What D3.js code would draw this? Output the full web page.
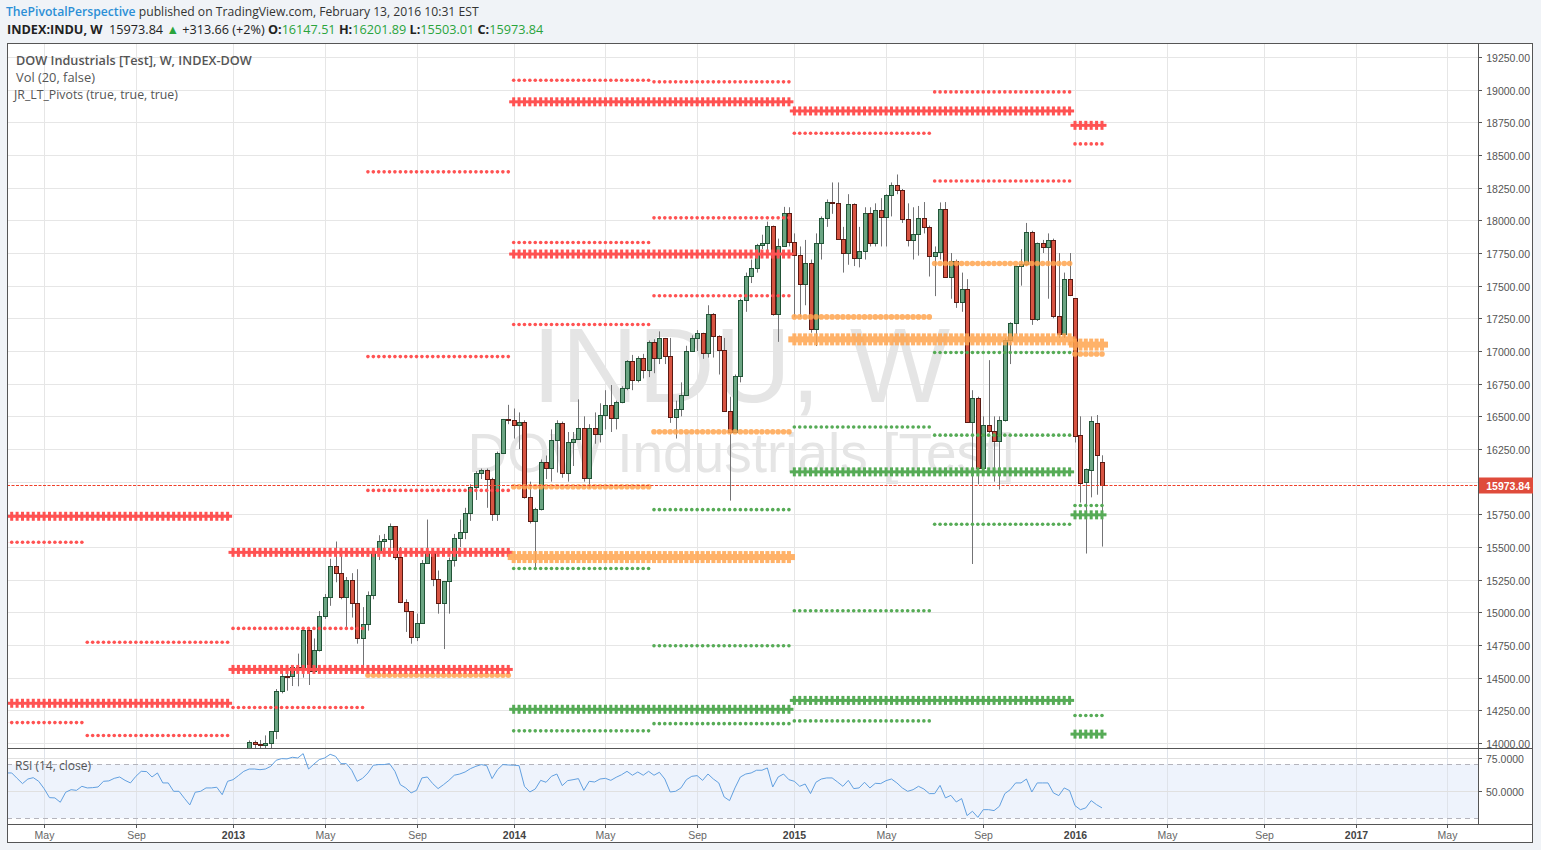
<!DOCTYPE html>
<html><head><meta charset="utf-8">
<script src="https://cdn.jsdelivr.net/npm/d3@7"></script>
<style>
html,body{margin:0;padding:0;background:#f0f3f7;}
svg{display:block;}
</style></head><body>
<svg id="c" width="1541" height="850"></svg>
<script>
// ---------------- DATA ----------------
const firstBar = "2013-01-28"; // weekly bars (Mondays)
const opens = [13896,14009,13993,13982,14001,14090,14397,14514,14512,14579,14565,14865,14548,14712,14974,15118,15354,15303,15116,15248,15070,14800,
14910,15136,15464,15544,15559,15659,15425,15081,15010,14810,14922,15376,15451,15258,15072,15237,15399,15570,15615,15761,15962,16064,16086,16020,15755,16221,16479,
16470,16437,16458,15879,15699,15794,16154,16103,16321,16452,16065,16302,16323,16412,16027,16409,16361,16512,16583,16491,16606,16717,16924,16776,16947,
16851,17068,16944,17100,16961,16493,16554,16663,17001,17098,17138,16988,17280,17113,17009,16544,16380,16805,17391,17573,17634,17810,17828,17958,17280,17804,18053,
17833,17737,17512,17673,17165,17825,18019,18141,18133,17856,17749,18128,17713,17763,18058,17827,18080,18025,18191,18272,18232,18011,17849,17899,18016,
17947,17730,17760,18086,17568,17690,17373,17477,16460,16643,16102,16433,16385,16315,16472,17084,17216,17647,17664,17910,17245,17824,17798,17848,17265,17128,17553,
17405,16354,16000,16090,16450,16147.51];
const highs = [14020,14019,14023,14058,14090,14413,14540,14563,14585,14684,14888,14875,14800,15010,15140,15410,15542,15450,15270,15300,15330,15040,
15160,15490,15590,15600,15680,15660,15500,15100,15010,14990,15400,15710,15460,15320,15240,15420,15600,15710,15800,15980,16080,16100,16100,16030,16230,16480,16588,
16560,16530,16470,16000,15800,16170,16200,16400,16470,16460,16380,16380,16630,16500,16440,16530,16600,16700,16740,16620,16730,16930,16970,16960,16978,
17080,17090,17150,17100,17100,16620,16760,17040,17120,17160,17140,17350,17290,17120,17100,16650,16820,17400,17600,17700,17820,17890,17990,17960,17860,18103,18100,
17900,17800,17850,17700,17900,18030,18160,18290,18290,17950,18200,18130,17950,18100,18100,18130,18170,18200,18290,18351,18240,18130,18100,18110,18140,
17960,17800,18137,18140,17750,17700,17600,17550,16700,16650,16500,16930,16500,16500,17100,17220,17650,17780,17980,17920,17830,17850,17900,17860,17750,17600,17750,
17405,16500,16100,16500,16510,16201.89];
const lows = [13860,13880,13910,13880,13784,14030,14380,14400,14436,14434,14500,14444,14540,14700,14950,15050,15230,15100,14880,14960,14760,14551,
14860,15100,15400,15440,15440,15400,15070,14850,14760,14780,14920,15370,15200,14990,14719,14990,15350,15500,15560,15700,15860,16020,15800,15700,15700,16220,16440,
16330,16250,15870,15680,15341,15780,16020,16000,16070,16030,16000,16120,16320,16000,15950,16290,16300,16400,16380,16400,16600,16700,16700,16760,16790,
16800,16830,16900,16900,16450,16330,16500,16660,17000,17000,16940,16950,16950,16820,16540,15855,16380,16760,17300,17520,17600,17780,17750,17270,17070,17800,17800,
17262,17260,17350,17140,17038,17700,17950,18050,17850,17600,17660,17650,17640,17700,17800,17800,17800,17800,18030,18200,17980,17800,17700,17730,17900,
17570,17420,17700,17560,17400,17330,17300,16450,15370,15980,16100,16370,16000,15940,16460,16900,17130,17500,17650,17200,17230,17750,17400,17250,17100,17100,17420,
16300,15840,15450,15880,15900,15503.01];
const closes = [14009,13993,13982,14001,14090,14397,14514,14512,14579,14565,14865,14548,14712,14974,15118,15354,15303,15116,15248,15070,14800,14910,
15136,15464,15544,15559,15659,15425,15081,15010,14810,14922,15376,15451,15258,15072,15237,15399,15570,15615,15761,15962,16064,16086,16020,15755,16221,16479,16470,
16437,16458,15879,15699,15794,16154,16103,16321,16452,16065,16302,16323,16412,16027,16409,16361,16512,16583,16491,16606,16717,16924,16776,16947,16851,
17068,16944,17100,16961,16493,16554,16663,17001,17098,17138,16988,17280,17113,17009,16544,16380,16805,17391,17573,17634,17810,17828,17958,17280,17804,18053,17833,
17737,17512,17673,17165,17825,18019,18141,18133,17856,17749,18128,17713,17763,18058,17827,18080,18025,18191,18272,18232,18011,17849,17899,18016,17947,
17730,17760,18086,17568,17690,17373,17477,16460,16643,16102,16433,16385,16315,16472,17084,17216,17647,17664,17910,17245,17824,17798,17848,17265,17128,17553,17425,
16346,15988,16094,16466,16205,15973.84];

const rsiStart = "2012-03-19";
const rsiValues = [63.6,63.6,59.6,55.7,59.1,60.1,57.4,52.0,45.3,45.1,41.9,49.3,51.2,50.7,53.7,52.5,52.7,53.2,57.4,57.7,59.6,60.6,58.1,56.2,61.1,64.8,64.6,60.6,63.6,56.2,56.2,50.0,50.0,44.8,39.9,49.3,50.0,52.5,52.5,53.0,47.5,57.4,
58.6,61.6,64.8,66.5,66.5,66.0,66.5,68.5,73.0,74.2,74.0,75.2,74.7,77.9,66.5,70.2,73.5,74.7,77.4,75.9,70.5,70.5,65.6,57.4,59.6,63.6,69.3,69.8,69.8,70.5,64.8,54.9,52.5,48.8,50.7,59.9,60.6,55.7,52.0,54.9,58.1,61.9,62.8,64.3,66.8,68.5,69.8,69.0,59.4,66.0,
69.8,69.5,69.3,69.0,53.7,49.5,51.7,58.1,56.7,61.1,62.8,54.2,57.9,58.6,59.4,50.7,57.4,56.9,59.1,59.6,58.1,60.4,62.3,64.8,61.9,64.3,61.9,64.8,61.9,64.1,59.1,49.5,50.0,52.5,58.6,61.1,61.6,58.1,62.8,59.1,56.2,45.8,43.1,52.5,60.6,62.8,63.6,65.6,65.6,67.3,53.2,60.6,62.8,58.6,
57.4,53.7,55.4,48.3,56.7,59.1,59.9,59.9,56.9,53.7,58.1,52.0,52.5,56.7,52.5,55.9,55.7,57.9,59.1,56.2,52.5,50.0,51.2,53.7,51.7,48.3,48.3,54.4,45.1,47.0,42.1,44.6,32.0,35.2,30.7,36.4,36.4,35.7,38.9,48.3,51.2,56.2,56.2,59.1,49.5,56.2,56.2,56.2,48.8,46.8,52.5,50.5,
39.4,36.4,37.7,43.1,40.1,37.7];

// yearly pivots (cross style)
const yearLabels = ["2012","2013","2014","2015","2016"];
const yearR3 = [15735, 15459, null, null, null];
const yearR2 = [14304, 14563, 18907, null, null];
const yearR1 = [null, null, 17742, 18837, 18727];
const yearP  = [null, null, 15423, 17089, 17049];
const yearS1 = [null, null, 14258, 16075, 15746];
const yearS2 = [null, null, null, 14326, 14068];

// half-year pivots (circles style)
const halfStarts = ["2012-01-01","2012-07-01","2013-01-01","2013-07-01","2014-01-01","2014-07-01","2015-01-01","2015-07-01","2016-01-01"];
const halfR3 = [15536, 14771, 14877, 18371, 19072, 19060, null, null, null];
const halfR2 = [14156, 14057, 14272, 16957, 17830, 18019, null, 18983, null];
const halfR1 = [null, null, null, 15933, 17203, 17423, 18666, 18301, 18585];
const halfP  = [null, null, null, 14519, 15961, 16382, 17261, 17670, 16977];
const halfS1 = [null, null, null, null, 15335, 15786, 16418, 16988, 15818];
const halfS2 = [null, null, null, null, 14093, 14744, 15012, 16356, 14211];
const halfS3 = [null, null, null, null, null, 14148, 14169, 15674, null];

const priceTicks = [14000,14250,14500,14750,15000,15250,15500,15750,16000,16250,16500,16750,17000,17250,17500,17750,18000,18250,18500,18750,19000,19250];
const timeTickDates = ["2012-05-07","2012-09-03","2013-01-07","2013-05-06","2013-09-02","2014-01-06","2014-05-05","2014-09-01","2015-01-05","2015-05-04","2015-09-07","2016-01-04","2016-05-02","2016-09-05","2017-01-02","2017-05-01"];
const timeTickLabels = ["May","Sep","2013","May","Sep","2014","May","Sep","2015","May","Sep","2016","May","Sep","2017","May"];
const rsiTicks = [50, 75];
const rsiBands = [30, 70];
const lastPrice = 15973.84;

// ---------------- LAYOUT ----------------
const L = 7, R = 1478, T = 43, B = 748, RB = 824, AXB = 843, FR = 1533;
const parse = d3.utcParse("%Y-%m-%d");
const x = d3.scaleUtc().domain([parse("2013-01-07"), parse("2016-01-04")]).range([233, 1075]);
const y = d3.scaleLinear().domain([14000, 19250]).range([743, 57]);
const yr = d3.scaleLinear().domain([30, 70]).range([818.3, 764.3]);

const svg = d3.select("#c");
const font = "'Liberation Sans', Arial, sans-serif";
const uiFont = "'Open Sans', 'Noto Sans', sans-serif";

svg.append("rect").attr("x", L).attr("y", T).attr("width", FR - L).attr("height", AXB - T).attr("fill", "#fff");

const defs = svg.append("defs");
defs.append("clipPath").attr("id", "mainClip").append("rect").attr("x", L).attr("y", T).attr("width", R - L).attr("height", B - T);
defs.append("clipPath").attr("id", "rsiClip").append("rect").attr("x", L).attr("y", B).attr("width", R - L).attr("height", RB - B);

const start = parse(firstBar);
const bars = opens.map((o, i) => ({ date: d3.utcDay.offset(start, 7 * i), o, h: highs[i], l: lows[i], c: closes[i] }));
const lastBarDate = bars[bars.length - 1].date;
const tickDates = timeTickDates.map(parse);

// grid
const grid = svg.append("g");
tickDates.forEach(d => {
  const xx = Math.round(x(d)) + 0.5;
  grid.append("line").attr("x1", xx).attr("x2", xx).attr("y1", T).attr("y2", RB).attr("stroke", "#e6e6e6");
});
priceTicks.forEach(p => {
  const yy = Math.round(y(p)) + 0.5;
  grid.append("line").attr("x1", L).attr("x2", R).attr("y1", yy).attr("y2", yy).attr("stroke", "#e6e6e6");
});

// watermark
const main = svg.append("g").attr("clip-path", "url(#mainClip)");
main.append("text").attr("x", 741).attr("y", 402).attr("text-anchor", "middle")
  .attr("font-family", font).attr("font-size", 106).attr("fill", "#e5e5e5").text("INDU, W");
main.append("text").attr("x", 741).attr("y", 472).attr("text-anchor", "middle")
  .attr("font-family", font).attr("font-size", 55).attr("fill", "#e5e5e5").text("DOW Industrials [Test]");

// candles
const cg = main.append("g");
bars.forEach(b => {
  const cx = Math.round(x(b.date));
  const up = b.c >= b.o;
  cg.append("line").attr("x1", cx + 0.5).attr("x2", cx + 0.5).attr("y1", y(b.h)).attr("y2", y(b.l))
    .attr("stroke", "#737375").attr("stroke-width", 1);
  const top = Math.round(y(Math.max(b.o, b.c))), bot = Math.round(y(Math.min(b.o, b.c)));
  cg.append("rect").attr("x", cx - 1.5).attr("y", top + 0.5).attr("width", 4).attr("height", Math.max(1, bot - top))
    .attr("fill", up ? "#6ba583" : "#d75442").attr("stroke", up ? "#225437" : "#5b1a13").attr("stroke-width", 1);
});

// pivots
const RED = "#ff5252", ORANGE = "#ffa54f", GREEN = "#56ab56";
const colorFor = k => k[0] === "R" ? RED : (k[0] === "P" ? ORANGE : GREEN);
const pg = main.append("g");
function periodBars(p0, p1) {
  return d3.utcMonday.range(p0, p1).filter(d => d <= lastBarDate);
}
function drawCross(xs, level, col) {
  const yy = y(level);
  const big = col === ORANGE;
  const th = big ? 6 : 3, vh = big ? 12 : 9, vw = big ? 4 : 3, arm = big ? 6 : 4.5;
  const g = pg.append("g").attr("fill", col).attr("opacity", big ? 0.85 : 1);
  g.append("rect").attr("x", xs[0] - arm).attr("y", yy - th / 2).attr("width", xs[xs.length - 1] - xs[0] + 2 * arm).attr("height", th);
  xs.forEach(xx => g.append("rect").attr("x", xx - vw / 2).attr("y", yy - vh / 2).attr("width", vw).attr("height", vh));
}
function drawDots(xs, level, col) {
  const yy = y(level);
  const big = col === ORANGE;
  const g = pg.append("g").attr("fill", col).attr("opacity", big ? 0.85 : 1);
  xs.forEach(xx => g.append("circle").attr("cx", xx).attr("cy", yy).attr("r", big ? 2.8 : 1.8));
}
const halfSets = { R3: halfR3, R2: halfR2, R1: halfR1, P: halfP, S1: halfS1, S2: halfS2, S3: halfS3 };
halfStarts.forEach((s, i) => {
  const p0 = parse(s);
  const p1 = i + 1 < halfStarts.length ? parse(halfStarts[i + 1]) : d3.utcMonth.offset(p0, 6);
  const xs = periodBars(p0, p1).map(d => x(d));
  if (!xs.length) return;
  Object.entries(halfSets).forEach(([k, arr]) => { if (arr[i] != null) drawDots(xs, arr[i], colorFor(k)); });
});
const yearSets = { R3: yearR3, R2: yearR2, R1: yearR1, P: yearP, S1: yearS1, S2: yearS2 };
yearLabels.forEach((s, i) => {
  const p0 = parse(s + "-01-01");
  const p1 = d3.utcYear.offset(p0, 1);
  const xs = periodBars(p0, p1).map(d => x(d));
  if (!xs.length) return;
  Object.entries(yearSets).forEach(([k, arr]) => { if (arr[i] != null) drawCross(xs, arr[i], colorFor(k)); });
});

// last price line
const lpY = Math.round(y(lastPrice)) + 0.5;
svg.append("line").attr("x1", L).attr("x2", R).attr("y1", lpY).attr("y2", lpY)
  .attr("stroke", "#f0402a").attr("stroke-width", 1.2).attr("stroke-dasharray", "3,1.5");

// RSI pane
const rg = svg.append("g").attr("clip-path", "url(#rsiClip)");
rg.append("rect").attr("x", L).attr("y", yr(rsiBands[1])).attr("width", R - L).attr("height", yr(rsiBands[0]) - yr(rsiBands[1])).attr("fill", "#eef3fc");
tickDates.forEach(d => {
  const xx = Math.round(x(d)) + 0.5;
  rg.append("line").attr("x1", xx).attr("x2", xx).attr("y1", B).attr("y2", RB).attr("stroke", "#dfe3ea");
});
rsiTicks.forEach(v => {
  const yy = Math.round(yr(v)) + 0.5;
  rg.append("line").attr("x1", L).attr("x2", R).attr("y1", yy).attr("y2", yy).attr("stroke", "#e0e0e0");
});
rsiBands.forEach(v => {
  const yy = Math.round(yr(v)) + 0.5;
  rg.append("line").attr("x1", L).attr("x2", R).attr("y1", yy).attr("y2", yy).attr("stroke", "#b4b4bc").attr("stroke-dasharray", "5,4");
});
const rsiStartDate = parse(rsiStart);
const rsiPts = rsiValues.map((v, i) => [x(d3.utcDay.offset(rsiStartDate, 7 * i)), yr(v)]);
rg.append("path").attr("d", d3.line()(rsiPts)).attr("fill", "none").attr("stroke", "#62a0e0").attr("stroke-width", 1);
svg.append("text").attr("x", 15).attr("y", 770).attr("font-family", uiFont).attr("font-size", 12).attr("fill", "#555").text("RSI (14, close)");

// frame lines
const frame = svg.append("g").attr("stroke", "#555").attr("fill", "none");
frame.append("rect").attr("x", L + 0.5).attr("y", T + 0.5).attr("width", FR - L - 1).attr("height", AXB - T - 1);
frame.append("line").attr("x1", R + 0.5).attr("x2", R + 0.5).attr("y1", T).attr("y2", RB);
frame.append("line").attr("x1", L).attr("x2", R).attr("y1", B + 0.5).attr("y2", B + 0.5);
frame.append("line").attr("x1", L).attr("x2", FR).attr("y1", RB + 0.5).attr("y2", RB + 0.5);
frame.append("line").attr("x1", R).attr("x2", FR).attr("y1", B + 0.5).attr("y2", B + 0.5);

// price axis
const pa = svg.append("g");
priceTicks.forEach(p => {
  const yy = Math.round(y(p)) + 0.5;
  pa.append("line").attr("x1", R).attr("x2", R + 4).attr("y1", yy).attr("y2", yy).attr("stroke", "#555");
  pa.append("text").attr("x", 1530).attr("y", yy + 4).attr("text-anchor", "end").attr("font-family", font)
    .attr("font-size", 10.5).attr("fill", "#555").text(d3.format(".2f")(p));
});
pa.append("rect").attr("x", R + 1).attr("y", lpY - 8).attr("width", FR - R - 1).attr("height", 16).attr("fill", "#df4b3b");
pa.append("text").attr("x", 1530).attr("y", lpY + 4).attr("text-anchor", "end").attr("font-family", font)
  .attr("font-size", 10.5).attr("font-weight", "bold").attr("fill", "#fff").text(d3.format(".2f")(lastPrice));
rsiTicks.forEach(v => {
  const yy = Math.round(yr(v)) + 0.5;
  pa.append("line").attr("x1", R).attr("x2", R + 4).attr("y1", yy).attr("y2", yy).attr("stroke", "#555");
  pa.append("text").attr("x", 1486).attr("y", yy + 4).attr("font-family", font)
    .attr("font-size", 10.5).attr("fill", "#555").text(d3.format(".4f")(v));
});

// time axis
const ta = svg.append("g");
tickDates.forEach((d, i) => {
  const xx = Math.round(x(d)) + 0.5;
  ta.append("line").attr("x1", xx).attr("x2", xx).attr("y1", RB).attr("y2", RB + 4).attr("stroke", "#555");
  const isYear = /^\d{4}$/.test(timeTickLabels[i]);
  ta.append("text").attr("x", xx).attr("y", 839).attr("text-anchor", "middle").attr("font-family", font)
    .attr("font-size", 10.5).attr("font-weight", isYear ? "bold" : "normal").attr("fill", isYear ? "#444" : "#666")
    .text(timeTickLabels[i]);
});

// header
function fit(sel, target) {
  const n = sel.node(); const w = n.getComputedTextLength();
  const fs = parseFloat(sel.attr("font-size"));
  sel.attr("font-size", fs * target / w);
}
const h1 = svg.append("text").attr("x", 6).attr("y", 16).attr("font-family", uiFont).attr("font-size", 13);
h1.append("tspan").attr("fill", "#2b8fd6").attr("font-weight", "600").text("ThePivotalPerspective");
h1.append("tspan").attr("fill", "#333").text(" published on TradingView.com, February 13, 2016 10:31 EST");
fit(h1, 473);

const green = "#2aa43c";
const h2 = svg.append("text").attr("x", 7).attr("y", 34).attr("font-family", uiFont).attr("font-size", 13).attr("fill", "#222");
h2.append("tspan").attr("font-weight", "bold").text("INDEX:INDU, W");
h2.append("tspan").text("\u00a0\u00a015973.84\u00a0");
h2.append("tspan").attr("fill", green).text("\u25B2");
h2.append("tspan").text("\u00a0+313.66 (+2%) ");
h2.append("tspan").attr("font-weight", "bold").text("O:");
h2.append("tspan").attr("fill", green).text("16147.51 ");
h2.append("tspan").attr("font-weight", "bold").text("H:");
h2.append("tspan").attr("fill", green).text("16201.89 ");
h2.append("tspan").attr("font-weight", "bold").text("L:");
h2.append("tspan").attr("fill", green).text("15503.01 ");
h2.append("tspan").attr("font-weight", "bold").text("C:");
h2.append("tspan").attr("fill", green).text("15973.84");
fit(h2, 537);

const lg1 = svg.append("text").attr("x", 16).attr("y", 65).attr("font-family", uiFont).attr("font-size", 12)
  .attr("font-weight", "600").attr("fill", "#555").text("DOW Industrials [Test], W, INDEX-DOW");
fit(lg1, 236);
const lg2 = svg.append("text").attr("x", 16).attr("y", 82).attr("font-family", uiFont).attr("font-size", 12)
  .attr("fill", "#555").text("Vol (20, false)");
fit(lg2, 79);
const lg3 = svg.append("text").attr("x", 14).attr("y", 99).attr("font-family", uiFont).attr("font-size", 12)
  .attr("fill", "#555").text("JR_LT_Pivots (true, true, true)");
fit(lg3, 164);
</script></body></html>
